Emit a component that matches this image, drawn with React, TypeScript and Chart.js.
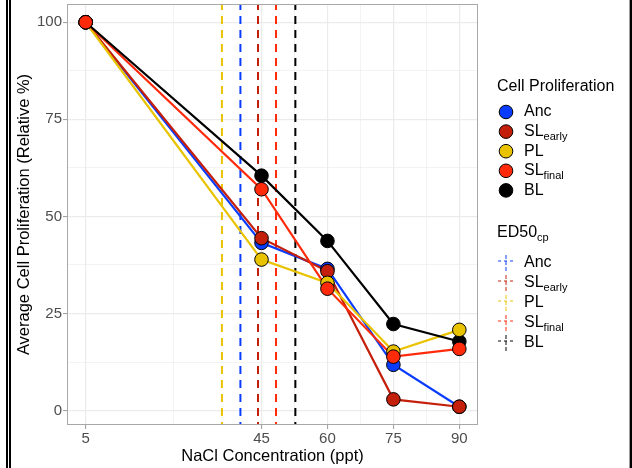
import { useEffect, useRef } from "react";
import { Chart, registerables } from "chart.js";

Chart.register(...registerables);

// NaCl concentrations (ppt)
const concentrations = [5, 45, 60, 75, 90];

// Average cell proliferation (relative %) per line
const anc = [100, 43.2, 36.5, 11.8, 1.0];
const slEarly = [100, 44.4, 35.9, 2.9, 1.0];
const pl = [100, 38.9, 32.9, 15.2, 20.8];
const slFinal = [100, 57.0, 31.4, 13.9, 15.9];
const bl = [100, 60.5, 43.7, 22.3, 17.8];

// ED50 of cell proliferation (ppt), same order as the groups
const ed50 = [40.2, 44.2, 36.0, 48.3, 52.7];

const groupNames = ["Anc", "SL", "PL", "SL", "BL"];
const groupSubs = ["", "early", "", "final", ""];
const groupColors = ["#0a3cff", "#c41f0a", "#e9c300", "#ff2a0a", "#000000"];

const xTicks = [5, 45, 60, 75, 90];
const yTicks = [0, 25, 50, 75, 100];

// stacking of the point markers (lower order = drawn on top)
const pointOrder = [4, 3, 2, 1, 5];

const FONT = '"Liberation Sans", Arial, Helvetica, sans-serif';

const series = [anc, slEarly, pl, slFinal, bl];

function withMinor(major: number[]) {
  const out: number[] = [];
  major.forEach((v, i) => {
    out.push(v);
    if (i < major.length - 1) out.push((v + major[i + 1]) / 2);
  });
  return out;
}

function drawRich(
  ctx: CanvasRenderingContext2D,
  x: number,
  y: number,
  main: string,
  sub: string
) {
  ctx.font = `16px ${FONT}`;
  ctx.fillStyle = "#000";
  ctx.textAlign = "left";
  ctx.textBaseline = "middle";
  ctx.fillText(main, x, y);
  if (sub) {
    const w = ctx.measureText(main).width;
    ctx.font = `11px ${FONT}`;
    ctx.fillText(sub, x + w, y + 5);
  }
}

const decorPlugin = {
  id: "decor",
  beforeDatasetsDraw(chart: any) {
    const { ctx, chartArea, scales } = chart;
    ctx.save();
    ctx.beginPath();
    ctx.rect(chartArea.left, chartArea.top, chartArea.right - chartArea.left, chartArea.bottom - chartArea.top);
    ctx.clip();
    ed50.forEach((v, i) => {
      const x = scales.x.getPixelForValue(v);
      ctx.strokeStyle = groupColors[i];
      ctx.lineWidth = 2;
      ctx.setLineDash([8, 6]);
      ctx.lineDashOffset = 2;
      ctx.beginPath();
      ctx.moveTo(x, chartArea.top);
      ctx.lineTo(x, chartArea.bottom);
      ctx.stroke();
    });
    ctx.restore();
  },
  afterDatasetsDraw(chart: any) {
    const { ctx, chartArea } = chart;
    ctx.save();
    ctx.strokeStyle = "#a8a8a8";
    ctx.lineWidth = 1;
    ctx.strokeRect(
      chartArea.left + 0.5,
      chartArea.top + 0.5,
      chartArea.right - chartArea.left - 1,
      chartArea.bottom - chartArea.top - 1
    );
    ctx.restore();
  },
  afterDraw(chart: any) {
    const { ctx } = chart;
    ctx.save();
    const keyX = 506;
    const textX = 524;

    // point legend
    ctx.font = `16px ${FONT}`;
    ctx.fillStyle = "#000";
    ctx.textBaseline = "middle";
    ctx.fillText("Cell Proliferation", 497, 87);
    groupNames.forEach((name, i) => {
      const y = 112 + i * 19.6;
      ctx.beginPath();
      ctx.arc(keyX, y, 6.8, 0, Math.PI * 2);
      ctx.fillStyle = groupColors[i];
      ctx.fill();
      ctx.lineWidth = 1;
      ctx.strokeStyle = "#000";
      ctx.stroke();
      drawRich(ctx, textX, y, name, groupSubs[i]);
    });

    // ED50 legend
    drawRich(ctx, 497, 233, "ED50", "cp");
    groupNames.forEach((name, i) => {
      const y = 263 + i * 20;
      ctx.globalAlpha = 0.65;
      ctx.strokeStyle = groupColors[i];
      ctx.lineWidth = 1.5;
      ctx.setLineDash([3, 3]);
      ctx.beginPath();
      ctx.moveTo(keyX - 8, y - 2);
      ctx.lineTo(keyX + 8, y - 2);
      ctx.stroke();
      ctx.setLineDash([4, 2]);
      ctx.beginPath();
      ctx.moveTo(keyX, y - 8);
      ctx.lineTo(keyX, y + 8);
      ctx.stroke();
      ctx.setLineDash([]);
      ctx.globalAlpha = 1;
      drawRich(ctx, textX, y, name, groupSubs[i]);
    });

    // outer frame edges
    ctx.fillStyle = "#000";
    ctx.fillRect(6, 0, 2, 468);
    ctx.fillRect(9, 0, 2, 468);
    ctx.fillStyle = "#9a9a9a";
    ctx.fillRect(629, 0, 1, 468);
    ctx.fillStyle = "#000";
    ctx.fillRect(630, 0, 2, 468);
    ctx.restore();
  },
};

export default function App() {
  const canvasRef = useRef<HTMLCanvasElement | null>(null);

  useEffect(() => {
    const canvas = canvasRef.current;
    if (!canvas) return;

    const lineSets = series.map((vals, i) => ({
      label: groupNames[i] + groupSubs[i],
      data: concentrations.map((c, j) => ({ x: c, y: vals[j] })),
      borderColor: groupColors[i],
      borderWidth: 2.2,
      pointRadius: 0,
      tension: 0,
      fill: false,
      order: 20 - i,
    }));
    const pointSets = series.map((vals, i) => ({
      label: groupNames[i] + groupSubs[i] + " points",
      data: concentrations.map((c, j) => ({ x: c, y: vals[j] })),
      showLine: false,
      pointRadius: 6.8,
      pointBackgroundColor: groupColors[i],
      pointBorderColor: "#000",
      pointBorderWidth: 1,
      order: pointOrder[i],
    }));

    const xAll = withMinor(xTicks);
    const yAll = withMinor(yTicks);
    const xMajor = new Set(xTicks);
    const yMajor = new Set(yTicks);

    const chart = new Chart(canvas, {
      type: "line",
      data: { datasets: [...pointSets, ...lineSets] as any },
      plugins: [decorPlugin],
      options: {
        animation: false,
        responsive: false,
        devicePixelRatio: 1,
        layout: { autoPadding: false, padding: { left: 11, right: 154, top: 4, bottom: 0 } },
        plugins: { legend: { display: false }, tooltip: { enabled: false } },
        scales: {
          x: {
            type: "linear",
            min: 0.75,
            max: 94.25,
            afterBuildTicks: (s: any) => {
              s.ticks = xAll.map((v) => ({ value: v }));
            },
            afterFit: (s: any) => {
              s.height = 43;
              s.paddingLeft = 0;
              s.paddingRight = 0;
            },
            ticks: {
              autoSkip: false,
              maxRotation: 0,
              padding: 1,
              color: "#4d4d4d",
              font: { family: FONT, size: 15 },
              callback: (v: any) => (xMajor.has(Number(v)) ? String(v) : ""),
            },
            grid: {
              color: "#ebebeb",
              lineWidth: (c: any) => (xMajor.has(c.tick?.value) ? 1.2 : 0.6),
              tickLength: 4,
              tickColor: (c: any) => (xMajor.has(c.tick?.value) ? "#9a9a9a" : "rgba(0,0,0,0)"),
              tickWidth: 1,
            },
            border: { display: false },
            title: {
              display: true,
              text: "NaCl Concentration (ppt)",
              color: "#000",
              font: { family: FONT, size: 16.5 },
              padding: { top: 0, bottom: 2 },
            },
          },
          y: {
            type: "linear",
            min: -3.7,
            max: 104.7,
            afterBuildTicks: (s: any) => {
              s.ticks = yAll.map((v) => ({ value: v }));
            },
            afterFit: (s: any) => {
              s.width = 56;
              s.paddingTop = 0;
              s.paddingBottom = 0;
            },
            ticks: {
              autoSkip: false,
              padding: 1,
              color: "#4d4d4d",
              font: { family: FONT, size: 15 },
              callback: (v: any) => (yMajor.has(Number(v)) ? String(v) : ""),
            },
            grid: {
              color: "#ebebeb",
              lineWidth: (c: any) => (yMajor.has(c.tick?.value) ? 1.2 : 0.6),
              tickLength: 4,
              tickColor: (c: any) => (yMajor.has(c.tick?.value) ? "#9a9a9a" : "rgba(0,0,0,0)"),
              tickWidth: 1,
            },
            border: { display: false },
            title: {
              display: true,
              text: "Average Cell Proliferation (Relative %)",
              color: "#000",
              font: { family: FONT, size: 16.5 },
              padding: { top: 4, bottom: 0 },
            },
          },
        },
      } as any,
    });

    return () => chart.destroy();
  }, []);

  return (
    <div style={{ position: "absolute", left: 0, top: 0, width: 632, height: 468, background: "#fff" }}>
      <canvas ref={canvasRef} width={632} height={468} style={{ display: "block" }} />
    </div>
  );
}
